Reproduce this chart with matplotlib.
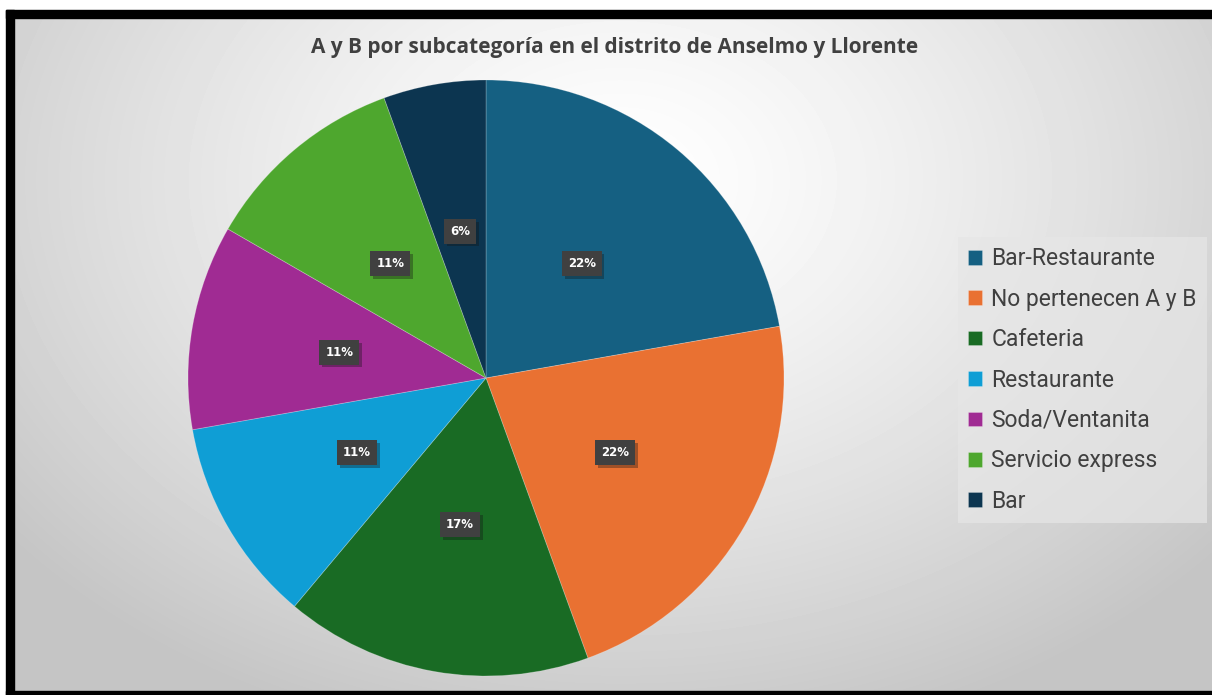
import numpy as np
import matplotlib.pyplot as plt
from matplotlib.patches import Rectangle
import matplotlib.patheffects as pe

categories = ['Bar-Restaurante', 'No pertenecen A y B', 'Cafeteria', 'Restaurante',
              'Soda/Ventanita', 'Servicio express', 'Bar']
counts = [4, 4, 3, 2, 2, 2, 1]
colors = ['#156082', '#E97132', '#196B24', '#0F9ED5', '#A02B93', '#4EA72E', '#0C3550']
title = 'A y B por subcategoría en el distrito de Anselmo y Llorente'

W, H = 1212, 695
fig = plt.figure(figsize=(W / 100, H / 100), dpi=100)

# radial gradient background
bg = fig.add_axes([0, 0, 1, 1])
yy, xx = np.mgrid[0:H, 0:W]
d = np.sqrt(((xx - 620) / 760.0) ** 2 + ((yy - 180) / 560.0) ** 2)
shade = np.clip(1.0 - 0.22 * d ** 1.3, 0.77, 1.0)
bg.imshow(shade, cmap='gray', vmin=0, vmax=1, extent=[0, W, H, 0], aspect='auto')
bg.set_xlim(0, W)
bg.set_ylim(H, 0)
bg.axis('off')

# frame: white margin + black border (left, top, bottom)
bg.add_patch(Rectangle((0, 0), W, 10, color='white'))
bg.add_patch(Rectangle((0, 0), 6, H, color='white'))
bg.add_patch(Rectangle((6, 10), W, 8, color='black'))
bg.add_patch(Rectangle((6, 10), 8, H, color='black'))
bg.add_patch(Rectangle((6, 691), W, 4, color='black'))

bg.text(615, 47, title, ha='center', va='center', fontsize=15, fontweight='bold',
        color='#404040', family='Open Sans', fontstretch='condensed')

# pie
cx, cy, R = 486, 378, 298
ax = fig.add_axes([(cx - R) / W, (H - cy - R) / H, 2 * R / W, 2 * R / H])
wedges, texts, autotexts = ax.pie(
    counts, colors=colors, startangle=90, counterclock=False,
    autopct='%1.0f%%', pctdistance=0.5, radius=1,
    wedgeprops=dict(linewidth=0.6, edgecolor='#ffffff40'))
ax.set_xlim(-1, 1)
ax.set_ylim(-1, 1)
ax.set_aspect('auto')
for t in autotexts:
    t.set_color('white')
    t.set_fontsize(8.5)
    t.set_fontweight('bold')
    t.set_bbox(dict(boxstyle='square,pad=0.5', facecolor='#404040', edgecolor='none',
                    path_effects=[pe.SimplePatchShadow(offset=(2, -2), alpha=0.35), pe.Normal()]))

leg = bg.legend(wedges, categories, loc='upper left', bbox_to_anchor=(958 / W, 1 - 237 / H),
                bbox_transform=fig.transFigure, frameon=True, fancybox=False,
                prop=dict(family='Roboto', size=16.5), labelcolor='#404040',
                handlelength=0.6, handleheight=0.6, handletextpad=0.4,
                labelspacing=0.76, borderpad=0.45, borderaxespad=0)
leg.get_frame().set_facecolor('#e6e6e6')
leg.get_frame().set_alpha(0.7)
leg.get_frame().set_edgecolor('none')

fig.savefig('out.png', dpi=100)
